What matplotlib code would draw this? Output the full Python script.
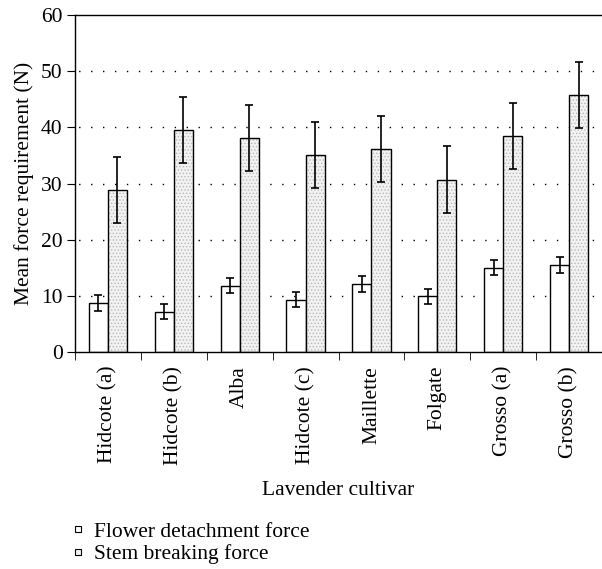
import matplotlib
matplotlib.use("Agg")
import matplotlib.pyplot as plt
import numpy as np
from matplotlib.lines import Line2D

cultivars = ["Hidcote (a)", "Hidcote (b)", "Alba", "Hidcote (c)", "Maillette",
             "Folgate", "Grosso (a)", "Grosso (b)"]
flower = [8.7, 7.2, 11.8, 9.3, 12.1, 9.95, 15.0, 15.5]
flower_err = [1.4, 1.3, 1.35, 1.3, 1.4, 1.35, 1.35, 1.35]
stem = [28.9, 39.5, 38.1, 35.1, 36.1, 30.7, 38.4, 45.8]
stem_err = [5.85, 5.9, 5.8, 5.9, 5.9, 5.9, 5.9, 5.9]

plt.rcParams['font.family'] = ['Liberation Serif', 'DejaVu Serif']
plt.rcParams['hatch.linewidth'] = 0.6

fig = plt.figure(figsize=(6.02, 5.69), dpi=100)
ax = fig.add_axes([0.1246, 0.3814, 0.8754, 0.5922])

x = np.arange(len(cultivars))
w = 0.29
ax.set_xlim(-0.5, len(cultivars) - 0.5)
ax.set_ylim(0, 60)

for yv in [10, 20, 30, 40, 50]:
    ax.axhline(yv, color='black', linestyle=(6, (1, 7.6)), linewidth=1.0, zorder=0)

ax.bar(x - w / 2, flower, w, color='white', edgecolor='black', linewidth=1.0, zorder=2)
ax.bar(x + w / 2, stem, w, color='#f2f2f2', edgecolor='#b8b8b8', hatch='.....',
       linewidth=0, zorder=2)
ax.bar(x + w / 2, stem, w, fill=False, edgecolor='black', linewidth=1.0, zorder=3)

ax.errorbar(x - w / 2, flower, yerr=flower_err, fmt='none', ecolor='black',
            elinewidth=1.2, capsize=3, capthick=1.2, zorder=4)
ax.errorbar(x + w / 2, stem, yerr=stem_err, fmt='none', ecolor='black',
            elinewidth=1.2, capsize=3, capthick=1.2, zorder=4)

ax.spines['right'].set_visible(False)
for s in ['left', 'bottom', 'top']:
    ax.spines[s].set_linewidth(1.0)

ax.set_yticks([0, 10, 20, 30, 40, 50, 60])
ax.tick_params(axis='y', direction='out', length=6, labelsize=15.5, pad=3)
ax.set_xticks(x)
ax.set_xticklabels(cultivars, rotation=90, fontsize=15.5)
ax.tick_params(axis='x', which='major', length=0, pad=10)
ax.set_xticks(np.arange(len(cultivars) + 1) - 0.5, minor=True)
ax.tick_params(axis='x', which='minor', length=6, direction='out')

ax.set_ylabel("Mean force requirement (N)", fontsize=15.5, labelpad=5)
ax.set_xlabel("Lavender cultivar", fontsize=15.5, labelpad=12)

handles = [Line2D([], [], linestyle='none', marker='s', markersize=4.5,
                  markerfacecolor='white', markeredgecolor='black', markeredgewidth=0.8),
           Line2D([], [], linestyle='none', marker='s', markersize=4.5,
                  markerfacecolor='#f2f2f2', markeredgecolor='black', markeredgewidth=0.8)]
fig.legend(handles, ["Flower detachment force", "Stem breaking force"],
           loc='upper left', bbox_to_anchor=(0.124, 0.083), frameon=False,
           fontsize=15.5, handlelength=0.3, handletextpad=0.6,
           labelspacing=0.12, borderpad=0, borderaxespad=0)

fig.savefig("out.png", dpi=100)
